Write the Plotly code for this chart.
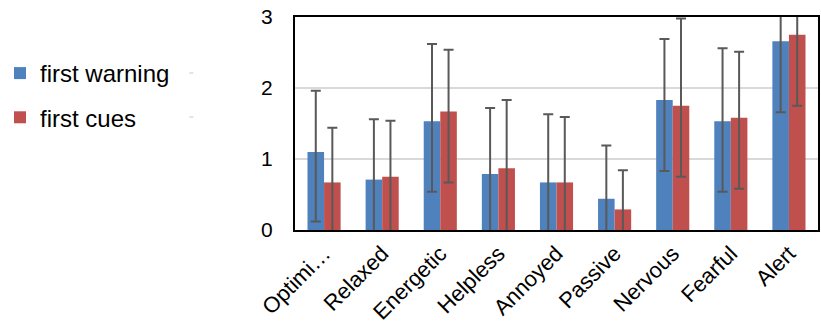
import plotly.graph_objects as go

# Emotion categories rated after each stimulus
categories = ["Optimi…", "Relaxed", "Energetic", "Helpless", "Annoyed",
              "Passive", "Nervous", "Fearful", "Alert"]

# Mean ratings
first_warning = [1.10, 0.71, 1.53, 0.79, 0.67, 0.44, 1.83, 1.53, 2.66]
first_cues = [0.67, 0.75, 1.67, 0.87, 0.67, 0.29, 1.75, 1.58, 2.75]

# Error bar extents above / below the mean
warning_plus = [0.86, 0.85, 1.09, 0.93, 0.96, 0.75, 0.86, 1.03, 0.95]
warning_minus = [0.98, 1.00, 0.99, 1.00, 1.00, 1.00, 1.00, 0.99, 1.00]
cues_plus = [0.77, 0.79, 0.87, 0.96, 0.92, 0.55, 1.23, 0.93, 0.95]
cues_minus = [1.00, 1.00, 1.00, 1.00, 1.00, 1.00, 1.00, 1.00, 1.00]

y_ticks = [0, 1, 2, 3]

FONT = "Arial, Liberation Sans, sans-serif"
ERR_COLOR = "#595959"

# plot area geometry in pixels
PLOT_L, PLOT_W, PLOT_T, PLOT_H = 295, 525, 17, 213


def err(plus, minus):
    return dict(type="data", symmetric=False, array=plus, arrayminus=minus,
                color=ERR_COLOR, thickness=2, width=5)


fig = go.Figure()
fig.add_trace(go.Bar(
    name="first warning", x=categories, y=first_warning,
    marker=dict(color="#4F81BD", line=dict(width=0)),
    error_y=err(warning_plus, warning_minus), legendgroup="a",
))
fig.add_trace(go.Bar(
    name="first cues", x=categories, y=first_cues,
    marker=dict(color="#C0504D", line=dict(width=0)),
    error_y=err(cues_plus, cues_minus), legendgroup="b",
))

fig.update_layout(
    width=821, height=331,
    margin=dict(l=PLOT_L, r=1, t=PLOT_T, b=101),
    paper_bgcolor="white", plot_bgcolor="white",
    font=dict(family=FONT, color="black", size=21),
    barmode="group", bargap=0.43, bargroupgap=0,
    showlegend=True,
    legend=dict(
        xref="container", yref="container",
        x=0.0, xanchor="left", y=1 - 51 / 331, yanchor="top",
        font=dict(size=24, family=FONT, color="black"),
        tracegroupgap=10, bgcolor="rgba(0,0,0,0)",
    ),
)

fig.update_xaxes(
    type="category", tickangle=-45,
    showline=True, linecolor="black", linewidth=2, mirror=True,
    ticks="", showgrid=False,
    tickfont=dict(size=22, family=FONT, color="black"),
)
fig.update_yaxes(
    range=[0, 3], tickvals=y_ticks, ticktext=[str(v) for v in y_ticks],
    showline=True, linecolor="black", linewidth=2, mirror=True,
    showgrid=True, gridcolor="#D9D9D9", gridwidth=2,
    zeroline=False, ticks="", ticklabelstandoff=16,
    tickfont=dict(size=21, family=FONT, color="black"),
)

# faint dash markers to the right of the legend entries
for y_px in (73, 117):
    fig.add_shape(type="line", xref="paper", yref="paper",
                  x0=(189 - PLOT_L) / PLOT_W, x1=(193 - PLOT_L) / PLOT_W,
                  y0=1 - (y_px - PLOT_T) / PLOT_H, y1=1 - (y_px - PLOT_T) / PLOT_H,
                  line=dict(color="#C8C8C8", width=1))

fig.write_html("out.html")
